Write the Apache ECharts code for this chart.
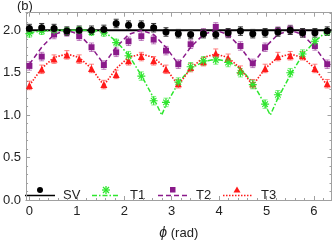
<!DOCTYPE html>
<html><head><meta charset="utf-8">
<script src="https://cdn.jsdelivr.net/npm/echarts@6/dist/echarts.min.js"></script>
<style>html,body{margin:0;padding:0;background:#fff}#c{width:332px;height:245px}</style>
</head><body><div id="c"></div>
<script>
// measured angles (rad)
const phi = [0,0.26,0.52,0.79,1.05,1.31,1.57,1.83,2.09,2.36,2.62,2.88,3.14,3.40,3.67,3.93,4.19,4.45,4.71,4.97,5.24,5.50,5.76,6.02,6.28];
// measured data
const sv = [2.02,2.03,2.02,1.99,2.00,2.00,2.01,2.08,2.06,2.06,2.03,1.98,1.96,1.95,1.96,1.95,1.97,1.99,1.96,1.97,1.98,2.00,1.97,1.97,1.99];
const t1 = [1.96,1.99,2.00,1.99,2.00,1.98,1.97,1.855,1.70,1.46,1.17,1.15,1.39,1.57,1.64,1.65,1.62,1.50,1.36,1.13,1.24,1.50,1.72,1.87,1.98];
const t2 = [1.58,1.69,1.95,1.98,1.93,1.80,1.59,1.74,1.87,1.93,1.89,1.76,1.60,1.835,1.97,2.04,1.96,1.815,1.61,1.80,1.99,2.01,1.97,1.815,1.60];
const t3 = [1.35,1.54,1.66,1.71,1.66,1.55,1.36,1.48,1.64,1.69,1.64,1.54,1.37,1.56,1.63,1.73,1.67,1.53,1.37,1.55,1.69,1.70,1.70,1.55,1.37];
const svErr = [0.05,0.05,0.05,0.05,0.05,0.05,0.05,0.05,0.05,0.05,0.05,0.05,0.05,0.05,0.05,0.05,0.05,0.05,0.05,0.05,0.05,0.05,0.05,0.05,0.05];
const t1Err = [0.04,0.04,0.04,0.04,0.04,0.04,0.04,0.04,0.05,0.05,0.05,0.05,0.05,0.05,0.05,0.05,0.05,0.05,0.05,0.05,0.05,0.05,0.05,0.04,0.04];
const t2Err = [0.05,0.05,0.05,0.05,0.05,0.05,0.05,0.05,0.05,0.05,0.05,0.05,0.05,0.05,0.05,0.05,0.05,0.05,0.05,0.05,0.05,0.05,0.05,0.05,0.05];
const t3Err = [0.05,0.05,0.05,0.05,0.05,0.05,0.05,0.05,0.05,0.05,0.05,0.05,0.05,0.05,0.05,0.05,0.05,0.05,0.05,0.05,0.05,0.05,0.05,0.05,0.05];
// theory curves
const svThPhi = [-0.07,6.37];
const svTh = [2.0,2.0];
const t1ThPhi = [0,0.26,0.52,0.79,1.05,1.31,1.57,1.83,2.09,2.36,2.62,2.79,2.88,3.14,3.40,3.67,3.93,4.19,4.45,4.71,4.97,5.08,5.24,5.50,5.76,6.02,6.28];
const t1Th = [1.97,1.99,2.00,2.00,2.00,2.00,1.99,1.87,1.71,1.47,1.20,1.00,1.12,1.38,1.55,1.63,1.66,1.63,1.55,1.38,1.12,1.00,1.20,1.47,1.71,1.87,1.99];
const t2Th = [1.60,1.80,1.95,2.00,1.95,1.80,1.60,1.80,1.95,2.00,1.95,1.80,1.60,1.80,1.95,2.00,1.95,1.80,1.60,1.80,1.95,2.00,1.95,1.80,1.60];
const t3Th = [1.35,1.55,1.68,1.72,1.68,1.55,1.35,1.55,1.68,1.72,1.68,1.55,1.35,1.55,1.68,1.72,1.68,1.55,1.35,1.55,1.68,1.72,1.68,1.55,1.35];
// tick labels
const xMajor = [0,1,2,3,4,5,6];
const yMajor = [0,0.5,1.0,1.5,2.0];

const xMin = -0.07, xMax = 6.37, yMin = 0, yMax = 2.207;
const xMinor = []; for (let i = 1; i <= 31; i++) { if (i % 5) xMinor.push(+(i * 0.2).toFixed(2)); }
const yMinor = []; for (let i = 1; i <= 22; i++) { if (i % 5) yMinor.push(+(i * 0.1).toFixed(2)); }

const C = {sv:'#000000', t1:'#2ee62e', t2:'#8a1a8a', t3:'#ff1a1a'};
const CE = {sv:'#333333', t1:'rgba(46,230,46,0.6)', t2:'rgba(138,26,138,0.55)', t3:'rgba(255,26,26,0.55)'};
const FONT = 'Liberation Sans, Arial, sans-serif';
const starPath = 'path://M4.3 0L5.7 0L5.7 10L4.3 10ZM0 4.3L10 4.3L10 5.7L0 5.7ZM1 2L2 1L9 8L8 9ZM8 1L9 2L2 9L1 8Z';

const zip = (xs, ys) => xs.map((x, i) => [x, ys[i]]);
const zip3 = (xs, ys, es) => xs.map((x, i) => [x, ys[i], es[i]]);

function errSeries(data, color) {
  return {
    type: 'custom', z: 3, silent: true, data: data, encode: {x: 0, y: 1},
    renderItem(params, api) {
      const x = api.value(0), y = api.value(1), e = api.value(2);
      const t = api.coord([x, y + e]), b = api.coord([x, y - e]);
      const w = 2.5, st = {stroke: color, lineWidth: 1};
      return {type: 'group', children: [
        {type: 'line', shape: {x1: t[0], y1: t[1], x2: b[0], y2: b[1]}, style: st},
        {type: 'line', shape: {x1: t[0] - w, y1: t[1], x2: t[0] + w, y2: t[1]}, style: st},
        {type: 'line', shape: {x1: b[0] - w, y1: b[1], x2: b[0] + w, y2: b[1]}, style: st}
      ]};
    }
  };
}
function lineSeries(data, color, dash, w) {
  return {type: 'line', data: data, showSymbol: false, symbol: 'none', z: 2, silent: true,
    lineStyle: {color: color, width: w || 1.5, type: dash}};
}
function scatterSeries(data, color, symbol, size) {
  return {type: 'scatter', data: data, symbol: symbol, symbolSize: size, z: 4, silent: true,
    itemStyle: {color: color, opacity: 1}};
}

const axisLineStyle = {color: '#a0a0a0', width: 1};
function xAx(pos, values, len, labels) {
  return {type: 'value', position: pos, min: xMin, max: xMax, gridIndex: 0,
    axisLine: {show: true, onZero: false, lineStyle: axisLineStyle},
    axisTick: {show: true, inside: true, length: len, customValues: values, lineStyle: {color: '#a0a0a0'}},
    axisLabel: labels ? {show: true, customValues: values, margin: 5, color: '#222', fontSize: 13, fontFamily: FONT} : {show: false},
    splitLine: {show: false}, minorTick: {show: false}};
}
function yAx(pos, values, len, labels) {
  return {type: 'value', position: pos, min: yMin, max: yMax, gridIndex: 0,
    axisLine: {show: true, onZero: false, lineStyle: axisLineStyle},
    axisTick: {show: true, inside: true, length: len, customValues: values, lineStyle: {color: '#a0a0a0'}},
    axisLabel: labels ? {show: true, customValues: values, margin: 5, color: '#222', fontSize: 13, fontFamily: FONT,
      formatter: v => v.toFixed(1)} : {show: false},
    splitLine: {show: false}, minorTick: {show: false}};
}

const xBottom = xAx('bottom', xMajor, 4, true);
xBottom.name = '{i|ϕ} (rad)';
xBottom.nameLocation = 'middle';
xBottom.nameGap = 26;
xBottom.nameTextStyle = {color: '#222', fontSize: 13, fontFamily: FONT, rich: {i: {fontStyle: 'italic', fontSize: 14, fontFamily: FONT, color: '#222'}}};

// legend drawn as graphics
const LY = 195.5, MY = 190, SX = 106;
const starSt = {stroke: C.t1, lineWidth: 1.3};
const legend = [
  {type: 'line', shape: {x1: 25, y1: LY, x2: 55, y2: LY}, style: {stroke: '#000', lineWidth: 1.5}},
  {type: 'circle', shape: {cx: 40, cy: MY, r: 3}, style: {fill: '#000'}},
  {type: 'text', style: {x: 63, y: LY, text: 'SV', font: '13px ' + FONT, fill: '#222', verticalAlign: 'middle'}},
  {type: 'line', shape: {x1: 92, y1: LY, x2: 120, y2: LY}, style: {stroke: C.t1, lineWidth: 1.5, lineDash: [5, 2, 1.5, 2]}},
  {type: 'line', shape: {x1: SX, y1: MY - 4, x2: SX, y2: MY + 4}, style: starSt},
  {type: 'line', shape: {x1: SX - 4, y1: MY, x2: SX + 4, y2: MY}, style: starSt},
  {type: 'line', shape: {x1: SX - 3, y1: MY - 3, x2: SX + 3, y2: MY + 3}, style: starSt},
  {type: 'line', shape: {x1: SX + 3, y1: MY - 3, x2: SX - 3, y2: MY + 3}, style: starSt},
  {type: 'text', style: {x: 130, y: LY, text: 'T1', font: '13px ' + FONT, fill: '#222', verticalAlign: 'middle'}},
  {type: 'line', shape: {x1: 158, y1: LY, x2: 187, y2: LY}, style: {stroke: C.t2, lineWidth: 1.5, lineDash: [5, 3]}},
  {type: 'rect', shape: {x: 170, y: MY - 3, width: 5.5, height: 5.5}, style: {fill: C.t2}},
  {type: 'text', style: {x: 196, y: LY, text: 'T2', font: '13px ' + FONT, fill: '#222', verticalAlign: 'middle'}},
  {type: 'line', shape: {x1: 223, y1: LY, x2: 252, y2: LY}, style: {stroke: C.t3, lineWidth: 1.5, lineDash: [1.5, 1.5]}},
  {type: 'polygon', shape: {points: [[237, MY - 3.5], [240.5, MY + 2.5], [233.5, MY + 2.5]]}, style: {fill: C.t3}},
  {type: 'text', style: {x: 261, y: LY, text: 'T3', font: '13px ' + FONT, fill: '#222', verticalAlign: 'middle'}},
  {type: 'text', style: {x: 17, y: 6, text: '(b)', font: '13px ' + FONT, fill: '#222', verticalAlign: 'middle'}}
];

const chart = echarts.init(document.getElementById('c'), null, {renderer: 'canvas'});
chart.setOption({
  animation: false,
  backgroundColor: '#fff',
  textStyle: {fontFamily: FONT},
  grid: {left: 21.7, right: 0.5, top: 12.7, bottom: 40.7, containLabel: false},
  xAxis: [xBottom, xAx('bottom', xMinor, 2, false), xAx('top', xMajor, 4, false), xAx('top', xMinor, 2, false)],
  yAxis: [yAx('left', yMajor, 4, true), yAx('left', yMinor, 2, false), yAx('right', yMajor, 4, false), yAx('right', yMinor, 2, false)],
  series: [
    lineSeries(zip(svThPhi, svTh), C.sv, 'solid', 1.8),
    lineSeries(zip(t1ThPhi, t1Th), C.t1, [5, 2, 1.5, 2], 1.5),
    lineSeries(zip(phi, t2Th), C.t2, [5, 3], 1.5),
    lineSeries(zip(phi, t3Th), C.t3, [1.5, 1.5], 1.6),
    errSeries(zip3(phi, t3, t3Err), CE.t3),
    errSeries(zip3(phi, t2, t2Err), CE.t2),
    errSeries(zip3(phi, t1, t1Err), CE.t1),
    errSeries(zip3(phi, sv, svErr), CE.sv),
    scatterSeries(zip(phi, t3), C.t3, 'triangle', 7),
    scatterSeries(zip(phi, t2), C.t2, 'rect', 6),
    scatterSeries(zip(phi, t1), C.t1, starPath, 8),
    scatterSeries(zip(phi, sv), C.sv, 'circle', 7)
  ],
  graphic: legend
});
</script></body></html>
